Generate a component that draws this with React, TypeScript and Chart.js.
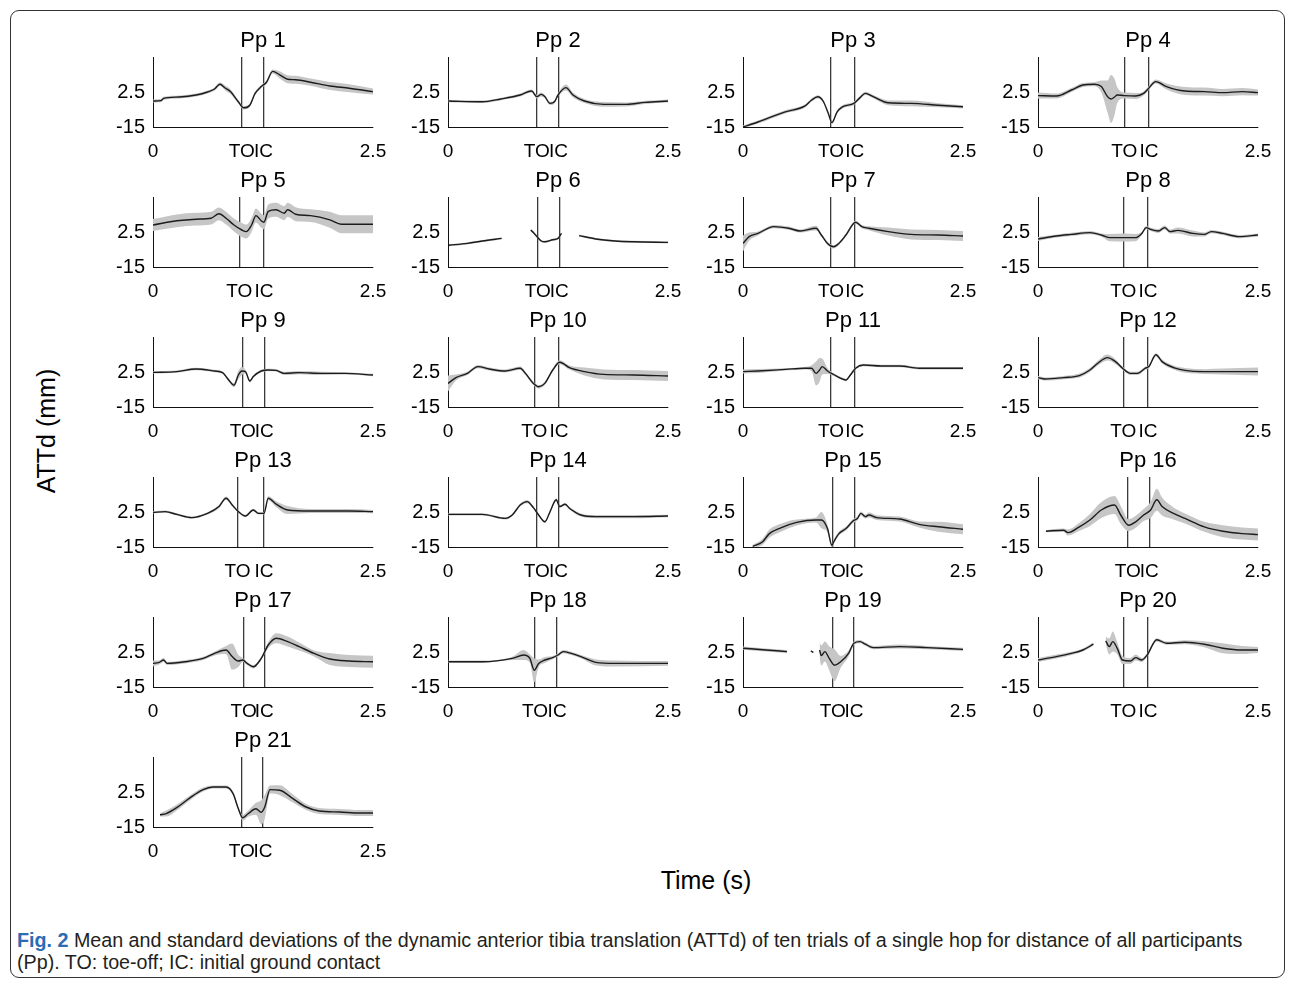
import React, { useEffect, useRef } from 'react';
import { Chart, registerables } from 'chart.js';

Chart.register(...registerables);

const FONT = '"Liberation Sans", Arial, Helvetica, sans-serif';

const X_MIN = 0;
const X_MAX = 2.5;
const Y_MIN = -15;
const Y_MAX = 20;
const Y_TICKS = [-15, 2.5];
const Y_TICK_LABELS = ['-15', '2.5'];
const X_TICK_LABELS = ['0', 'TO', 'IC', '2.5'];
const TITLES = ['Pp 1','Pp 2','Pp 3','Pp 4','Pp 5','Pp 6','Pp 7','Pp 8','Pp 9','Pp 10','Pp 11','Pp 12','Pp 13','Pp 14','Pp 15','Pp 16','Pp 17','Pp 18','Pp 19','Pp 20','Pp 21'];

// toe-off and initial contact times (s)
const TO_TIMES = [1.01, 1.01, 1.00, 0.98, 0.98, 1.02, 1.00, 0.97, 1.02, 0.98, 1.00, 0.97, 0.96, 1.01, 1.02, 1.02, 1.03, 0.99, 1.02, 0.97, 1.01];
const IC_TIMES = [1.255, 1.255, 1.27, 1.26, 1.26, 1.265, 1.27, 1.25, 1.265, 1.26, 1.27, 1.25, 1.26, 1.255, 1.265, 1.265, 1.265, 1.24, 1.26, 1.25, 1.25];

// Pp 1
const T1 = [0, 0.09, 0.12, 0.30, 0.49, 0.62, 0.70, 0.76, 0.82, 0.88, 0.97, 1.03, 1.10, 1.16, 1.23, 1.29, 1.36, 1.44, 1.53, 1.62, 1.79, 2.01, 2.23, 2.5];
const M1 = [-2.0, -1.8, -0.7, 0.0, 1.0, 2.5, 4.0, 6.4, 4.5, 2.7, -2.4, -5.4, -4.1, 1.8, 5.2, 7.4, 12.8, 11.1, 8.9, 8.6, 7.4, 5.5, 4.4, 2.7];
const S1 = [0.8, 0.8, 0.8, 0.8, 0.8, 0.8, 0.8, 0.8, 1.2, 1.2, 0.8, 0.8, 0.8, 0.8, 0.8, 0.8, 1.0, 1.8, 2.0, 2.0, 1.8, 2.0, 2.0, 1.5];
// Pp 2
const T2 = [0, 0.39, 0.60, 0.82, 0.95, 1.01, 1.06, 1.10, 1.16, 1.21, 1.25, 1.34, 1.42, 1.55, 1.77, 2.03, 2.24, 2.5];
const M2 = [-2.0, -2.4, -1.0, 1.0, 3.0, 0.2, 1.3, 0.2, -3.2, -2.4, 1.0, 4.7, 1.0, -2.0, -3.7, -3.7, -2.7, -2.0];
const S2 = [0.6, 0.6, 0.6, 0.8, 0.8, 1.0, 1.0, 0.8, 0.8, 0.8, 0.8, 1.5, 1.2, 1.0, 1.2, 1.0, 0.8, 0.8];
// Pp 3
const T3 = [0, 0.17, 0.48, 0.70, 0.78, 0.85, 0.91, 0.97, 1.01, 1.07, 1.13, 1.26, 1.33, 1.39, 1.48, 1.65, 1.91, 2.22, 2.5];
const M3 = [-15, -12.5, -7.4, -4.6, -1.5, 0.1, -2.0, -8.3, -12.8, -7.4, -4.9, -3.2, -0.3, 1.8, 0.2, -2.9, -3.2, -4.1, -4.9];
const S3 = [0.8, 0.8, 0.8, 0.8, 0.8, 0.8, 0.8, 0.8, 0.8, 0.8, 0.8, 0.8, 0.8, 0.8, 0.8, 1.2, 1.4, 1.0, 0.8];
// Pp 4
const T4 = [0, 0.21, 0.38, 0.51, 0.64, 0.72, 0.79, 0.83, 0.87, 0.90, 0.98, 1.11, 1.20, 1.24, 1.34, 1.46, 1.67, 1.89, 2.10, 2.32, 2.5];
const M4 = [0.7, 0.5, 3.5, 6.0, 6.4, 5.2, 0.2, -1.0, 0.0, 1.0, 0.7, 0.5, 1.8, 3.5, 7.7, 5.2, 3.0, 2.7, 2.2, 2.7, 2.2];
const S4 = [1.5, 1.2, 1.0, 1.0, 1.0, 3.0, 8.0, 12.0, 9.0, 4.0, 1.5, 1.5, 1.0, 1.0, 1.0, 1.5, 2.0, 2.0, 1.8, 1.8, 1.5];
// Pp 5
const T5 = [0, 0.27, 0.49, 0.66, 0.75, 0.83, 0.92, 1.01, 1.06, 1.12, 1.17, 1.23, 1.26, 1.31, 1.40, 1.49, 1.53, 1.62, 1.79, 2.01, 2.14, 2.36, 2.5];
const M5 = [6.0, 8.1, 8.9, 9.4, 11.6, 9.4, 6.0, 3.5, 2.7, 6.0, 10.7, 8.1, 7.4, 12.8, 13.6, 11.9, 13.6, 11.4, 10.7, 8.6, 6.4, 6.4, 6.4];
const S5 = [3.0, 3.2, 3.2, 3.2, 3.2, 3.2, 3.2, 3.5, 3.5, 3.5, 3.5, 3.5, 3.5, 3.5, 3.5, 3.5, 3.5, 3.5, 3.2, 4.0, 4.5, 4.5, 4.5];
// Pp 6
const T6 = [0.01, 0.22, 0.39, 0.61, 0.62, 0.94, 0.98, 1.06, 1.10, 1.19, 1.25, 1.29, 1.30, 1.49, 1.68, 1.90, 2.11, 2.5];
const M6 = [-4.1, -3.2, -2.0, -0.7, null, 3.5, 1.8, -2.0, -2.4, -1.4, -0.7, 1.8, null, 0.7, -1.0, -2.0, -2.4, -2.7];
const S6 = [0.5, 0.5, 0.5, 0.5, 0, 0.5, 0.5, 0.5, 0.5, 0.5, 0.5, 0.5, 0, 0.5, 0.5, 0.5, 0.5, 0.5];
// Pp 7
const T7 = [0, 0.07, 0.17, 0.35, 0.52, 0.65, 0.83, 0.89, 0.96, 1.03, 1.09, 1.17, 1.28, 1.35, 1.43, 1.65, 1.91, 2.22, 2.5];
const M7 = [-3.2, 0.2, 1.8, 5.2, 4.4, 3.0, 4.4, 1.0, -3.2, -4.9, -3.2, 1.0, 7.4, 5.2, 4.4, 2.7, 1.3, 1.0, 0.5];
const S7 = [4.0, 2.0, 1.0, 0.8, 0.8, 0.8, 1.2, 0.8, 0.8, 0.8, 0.8, 0.8, 0.8, 0.8, 1.0, 2.0, 2.5, 2.5, 2.5];
// Pp 8
const T8 = [0, 0.21, 0.38, 0.59, 0.72, 0.81, 0.98, 1.11, 1.18, 1.23, 1.28, 1.37, 1.44, 1.50, 1.59, 1.76, 1.89, 1.97, 2.10, 2.28, 2.5];
const M8 = [-1.0, 0.5, 1.3, 2.2, 1.0, -0.3, -0.3, -0.3, 1.8, 4.7, 3.8, 3.0, 4.7, 2.7, 3.3, 1.8, 1.3, 2.7, 1.8, 0.2, 1.0];
const S8 = [1.0, 0.8, 0.8, 0.8, 0.8, 1.8, 2.0, 1.8, 0.8, 0.8, 0.8, 1.0, 1.0, 1.0, 1.5, 1.5, 1.0, 0.8, 0.8, 0.8, 0.8];
// Pp 9
const T9 = [0, 0.27, 0.49, 0.70, 0.79, 0.86, 0.92, 0.97, 1.01, 1.05, 1.10, 1.14, 1.23, 1.31, 1.40, 1.49, 1.66, 1.92, 2.18, 2.5];
const M9 = [2.3, 2.7, 4.0, 3.0, 2.2, -1.5, -4.1, 1.0, 3.0, 2.7, -2.0, 0.2, 3.0, 3.5, 3.3, 1.8, 2.2, 1.8, 1.8, 1.0];
const S9 = [0.6, 0.6, 0.6, 0.6, 0.6, 0.8, 1.0, 2.0, 2.0, 1.0, 0.8, 0.6, 0.6, 0.6, 0.6, 0.8, 0.8, 0.8, 0.6, 0.6];
// Pp 10
const T10 = [0, 0.09, 0.22, 0.34, 0.47, 0.65, 0.82, 0.88, 0.97, 1.03, 1.10, 1.19, 1.27, 1.38, 1.55, 1.77, 2.11, 2.5];
const M10 = [-3.2, -0.3, 1.8, 5.2, 4.0, 3.0, 4.4, 1.8, -3.2, -4.9, -3.2, 3.5, 7.4, 4.7, 2.7, 1.3, 1.0, 0.5];
const S10 = [4.0, 1.5, 0.8, 0.8, 0.8, 0.8, 0.8, 0.8, 0.8, 0.8, 0.8, 0.8, 1.0, 1.0, 2.0, 2.5, 2.5, 2.5];
// Pp 11
const T11 = [0, 0.17, 0.48, 0.70, 0.78, 0.83, 0.87, 0.90, 0.96, 1.04, 1.13, 1.17, 1.22, 1.28, 1.37, 1.57, 1.78, 2.00, 2.5];
const M11 = [2.7, 3.0, 3.8, 4.4, 4.4, 1.8, 3.5, 5.2, 3.0, 1.0, -1.0, -1.5, 1.0, 4.4, 6.0, 5.5, 5.5, 4.4, 4.4];
const S11 = [1.0, 1.0, 0.6, 0.6, 1.5, 6.0, 6.0, 4.0, 1.5, 0.6, 0.6, 0.6, 0.6, 0.6, 0.6, 0.6, 0.6, 0.6, 0.6];
// Pp 12
const T12 = [0, 0.08, 0.29, 0.47, 0.59, 0.68, 0.79, 0.88, 0.96, 1.05, 1.13, 1.22, 1.26, 1.34, 1.41, 1.54, 1.67, 1.89, 2.10, 2.5];
const M12 = [-0.3, -1.0, -0.3, 0.7, 3.5, 6.9, 9.7, 7.7, 4.4, 1.8, 1.8, 4.4, 5.2, 11.1, 7.7, 4.7, 3.3, 2.7, 2.7, 2.7];
const S12 = [0.8, 0.8, 0.8, 1.0, 1.0, 1.2, 1.5, 1.2, 0.8, 0.8, 0.8, 0.8, 0.8, 0.8, 1.0, 1.0, 1.2, 1.2, 1.5, 2.0];
// Pp 13
const T13 = [0, 0.14, 0.27, 0.44, 0.62, 0.75, 0.83, 0.90, 0.97, 1.05, 1.14, 1.20, 1.26, 1.31, 1.40, 1.53, 1.79, 2.01, 2.23, 2.5];
const M13 = [2.3, 2.7, 1.3, -0.3, 1.8, 5.2, 9.4, 6.0, 2.7, 0.5, 3.5, 1.8, 1.8, 9.4, 6.4, 3.5, 3.0, 3.0, 3.0, 2.7];
const S13 = [0.6, 0.6, 0.6, 0.6, 0.6, 0.8, 0.8, 0.8, 0.6, 0.6, 0.6, 0.6, 0.6, 1.0, 1.5, 2.0, 1.0, 1.0, 1.0, 0.8];
// Pp 14
const T14 = [0, 0.39, 0.65, 0.73, 0.82, 0.90, 0.97, 1.03, 1.10, 1.16, 1.23, 1.27, 1.33, 1.38, 1.51, 1.68, 2.11, 2.5];
const M14 = [1.3, 1.3, -0.7, 1.0, 6.0, 7.7, 4.7, 1.0, -2.4, 2.7, 8.6, 5.2, 6.4, 4.4, 1.0, 0.2, 0.2, 0.5];
const S14 = [0.6, 0.6, 0.6, 0.6, 0.8, 0.8, 0.6, 0.6, 0.6, 0.6, 0.8, 0.6, 0.6, 0.6, 0.8, 0.8, 0.8, 0.6];
// Pp 15
const T15 = [0.11, 0.22, 0.30, 0.43, 0.61, 0.83, 0.89, 0.96, 1.01, 1.03, 1.09, 1.17, 1.25, 1.30, 1.34, 1.39, 1.43, 1.52, 1.78, 2.00, 2.22, 2.5];
const M15 = [-14.7, -12.5, -8.3, -5.4, -2.7, -1.5, -1.5, -5.8, -14.2, -12.5, -8.3, -5.8, -2.0, -0.7, 1.8, 0.2, 1.0, -0.3, -1.0, -3.7, -4.9, -6.1];
const S15 = [0.8, 1.5, 2.0, 2.0, 1.5, 1.2, 4.0, 2.0, 1.0, 1.0, 1.0, 1.0, 1.0, 1.0, 1.0, 1.0, 1.2, 1.2, 1.2, 1.5, 2.5, 2.5];
// Pp 16
const T16 = [0.09, 0.29, 0.34, 0.47, 0.59, 0.72, 0.87, 0.94, 1.03, 1.11, 1.20, 1.28, 1.35, 1.41, 1.54, 1.67, 1.89, 2.10, 2.32, 2.5];
const M16 = [-7.1, -6.6, -7.8, -4.9, -1.5, 3.5, 6.0, 1.0, -4.1, -2.4, 1.0, 3.5, 8.6, 5.2, 1.8, -0.7, -4.9, -7.1, -8.3, -8.8];
const S16 = [0.5, 0.8, 1.5, 2.0, 3.0, 4.0, 4.5, 4.5, 3.0, 3.0, 3.0, 4.0, 5.5, 4.5, 3.0, 2.5, 2.5, 3.0, 3.0, 3.0];
// Pp 17
const T17 = [0, 0.07, 0.12, 0.16, 0.36, 0.57, 0.70, 0.83, 0.90, 0.97, 1.02, 1.07, 1.14, 1.23, 1.31, 1.40, 1.53, 1.66, 1.83, 2.01, 2.23, 2.5];
const M17 = [-3.2, -2.7, -1.5, -3.2, -2.4, -0.7, 1.8, 3.5, 0.2, -2.0, -1.5, -3.2, -4.9, -0.7, 6.0, 9.4, 7.7, 5.2, 1.8, -1.0, -2.0, -2.4];
const S17 = [1.5, 1.0, 1.0, 0.8, 0.8, 0.8, 1.0, 2.0, 6.5, 3.0, 1.0, 0.8, 0.8, 0.8, 1.5, 2.5, 2.5, 2.0, 1.5, 3.0, 3.0, 3.0];
// Pp 18
const T18 = [0, 0.39, 0.73, 0.86, 0.93, 0.98, 1.03, 1.10, 1.19, 1.25, 1.31, 1.40, 1.51, 1.68, 1.90, 2.5];
const M18 = [-2.4, -2.4, -0.7, 1.0, -0.7, -6.6, -3.2, -1.5, -0.3, 1.0, 2.7, 1.8, 0.2, -2.7, -3.2, -3.2];
const S18 = [0.6, 0.6, 0.8, 2.5, 2.0, 6.0, 2.0, 1.5, 0.8, 0.8, 0.8, 0.8, 0.8, 1.5, 1.5, 1.2];
// Pp 19
const T19 = [0, 0.26, 0.50, 0.51, 0.77, 0.80, 0.81, 0.87, 0.89, 0.93, 0.98, 1.04, 1.11, 1.20, 1.26, 1.33, 1.39, 1.48, 1.78, 2.09, 2.5];
const M19 = [4.4, 3.5, 2.7, null, 3.0, 2.3, null, 3.5, 0.7, 2.7, -0.7, -4.1, -2.4, 1.8, 6.9, 7.7, 6.4, 4.7, 5.2, 4.7, 3.8];
const S19 = [0.8, 0.8, 0.8, 0, 0.5, 0.5, 0, 4.0, 5.0, 5.0, 6.0, 8.0, 3.0, 1.5, 0.8, 0.8, 0.8, 0.8, 1.0, 0.8, 0.8];
// Pp 20
const T20 = [0, 0.21, 0.38, 0.51, 0.63, 0.64, 0.77, 0.81, 0.85, 0.90, 0.96, 1.05, 1.11, 1.18, 1.24, 1.35, 1.46, 1.67, 1.89, 2.10, 2.32, 2.5];
const M20 = [-1.5, 0.2, 1.8, 3.5, 6.4, null, 8.1, 5.2, 7.7, 4.4, -1.5, -2.0, -0.3, -1.5, 1.0, 8.6, 6.9, 7.4, 6.4, 4.4, 3.5, 3.5];
const S20 = [1.0, 1.0, 0.8, 0.8, 0.8, 0, 2.0, 4.0, 5.0, 3.0, 2.0, 1.5, 1.5, 1.0, 0.8, 0.8, 0.8, 1.0, 1.5, 2.5, 2.0, 1.5];
// Pp 21
const T21 = [0.08, 0.15, 0.27, 0.42, 0.57, 0.68, 0.83, 0.91, 0.97, 1.02, 1.08, 1.17, 1.23, 1.27, 1.33, 1.44, 1.59, 1.74, 1.89, 2.12, 2.35, 2.5];
const M21 = [-8.9, -8.3, -5.3, -0.4, 3.7, 5.0, 5.0, 1.7, -5.9, -10.4, -8.4, -5.9, -7.6, -5.0, 3.7, 3.4, -0.8, -5.0, -7.0, -7.5, -8.0, -8.0];
const S21 = [0.8, 1.5, 1.5, 1.2, 1.0, 0.8, 0.8, 1.0, 1.0, 1.5, 1.5, 3.0, 6.0, 6.0, 2.0, 2.5, 2.0, 1.5, 1.5, 1.5, 1.5, 1.5];

const PANELS = [
  [T1, M1, S1], [T2, M2, S2], [T3, M3, S3], [T4, M4, S4], [T5, M5, S5], [T6, M6, S6], [T7, M7, S7],
  [T8, M8, S8], [T9, M9, S9], [T10, M10, S10], [T11, M11, S11], [T12, M12, S12], [T13, M13, S13], [T14, M14, S14],
  [T15, M15, S15], [T16, M16, S16], [T17, M17, S17], [T18, M18, S18], [T19, M19, S19], [T20, M20, S20], [T21, M21, S21],
];

// layout (pixels)
const COL_LEFT = [153, 448, 743, 1038];
const ROW_TOP = [57, 197, 337, 477, 617, 757];
const PLOT_W = 220;
const PLOT_H = 70;
const AXIS_W = 52;
const PAD_TOP = 26;
const PAD_RIGHT = 32;
const XAXIS_H = 38;

function Panel({ idx }: { idx: number }) {
  const ref = useRef<HTMLCanvasElement | null>(null);
  useEffect(() => {
    const [t, m, s] = PANELS[idx] as [number[], (number | null)[], number[]];
    const to = TO_TIMES[idx];
    const ic = IC_TIMES[idx];
    const mean = t.map((x, i) => ({ x, y: m[i] }));
    const upper = t.map((x, i) => ({ x, y: m[i] === null ? null : (m[i] as number) + s[i] }));
    const lower = t.map((x, i) => ({ x, y: m[i] === null ? null : (m[i] as number) - s[i] }));
    const xTickVals = [X_MIN, to, ic, X_MAX];
    const chart = new Chart(ref.current as HTMLCanvasElement, {
      type: 'line',
      data: {
        datasets: [
          { data: mean as any, borderColor: '#1c1c1c', borderWidth: 1.4, pointRadius: 0, fill: false, cubicInterpolationMode: 'monotone', spanGaps: false },
          { data: upper as any, borderColor: 'rgba(0,0,0,0)', borderWidth: 0, pointRadius: 0, fill: false, cubicInterpolationMode: 'monotone', spanGaps: false },
          { data: lower as any, borderColor: 'rgba(0,0,0,0)', borderWidth: 0, pointRadius: 0, fill: '-1', backgroundColor: '#c6c6c6', cubicInterpolationMode: 'monotone', spanGaps: false },
        ],
      },
      options: {
        animation: false,
        responsive: false,
        events: [],
        layout: { padding: { top: PAD_TOP, right: PAD_RIGHT, left: 0, bottom: 0 } },
        plugins: { legend: { display: false }, tooltip: { enabled: false }, title: { display: false } },
        scales: {
          x: {
            type: 'linear',
            min: X_MIN,
            max: X_MAX,
            afterBuildTicks: (sc: any) => { sc.ticks = xTickVals.map((v) => ({ value: v })); },
            afterFit: (sc: any) => { sc.height = XAXIS_H; },
            ticks: {
              autoSkip: false, maxRotation: 0, minRotation: 0, padding: 13, color: '#000',
              font: { family: FONT, size: 19 },
              callback: (_v: any, i: number) => X_TICK_LABELS[i],
            },
            grid: {
              drawTicks: false,
              color: (c: any) => (c.index === 1 || c.index === 2 ? '#3a3a3a' : 'rgba(0,0,0,0)'),
              lineWidth: 1.3,
            },
            border: { display: true, color: '#111', width: 1 },
          },
          y: {
            type: 'linear',
            min: Y_MIN,
            max: Y_MAX,
            afterBuildTicks: (sc: any) => { sc.ticks = Y_TICKS.map((v) => ({ value: v })); },
            afterFit: (sc: any) => { sc.width = AXIS_W; },
            ticks: {
              padding: 8, color: '#000',
              font: { family: FONT, size: 20 },
              callback: (_v: any, i: number) => Y_TICK_LABELS[i],
            },
            grid: { drawTicks: false, color: 'rgba(0,0,0,0)' },
            border: { display: true, color: '#111', width: 1 },
          },
        },
      } as any,
    });
    return () => chart.destroy();
  }, [idx]);
  const col = idx % 4;
  const row = Math.floor(idx / 4);
  const w = AXIS_W + PLOT_W + PAD_RIGHT;
  const h = PAD_TOP + PLOT_H + XAXIS_H;
  return (
    <>
      <canvas
        ref={ref}
        width={w}
        height={h}
        style={{ position: 'absolute', left: COL_LEFT[col] - AXIS_W, top: ROW_TOP[row] - PAD_TOP, width: w, height: h }}
      />
      <div style={{ position: 'absolute', left: COL_LEFT[col], top: ROW_TOP[row] - 31, width: PLOT_W, height: 28, lineHeight: '28px', textAlign: 'center', fontFamily: FONT, fontSize: 22, color: '#000' }}>
        {TITLES[idx]}
      </div>
    </>
  );
}

export default function App() {
  return (
    <div style={{ position: 'absolute', left: 0, top: 0, width: 1293, height: 986, background: '#fff', overflow: 'hidden' }}>
      <div style={{ position: 'absolute', left: 10, top: 10, width: 1273, height: 966, border: '1.5px solid #333', borderRadius: 9 }} />
      {PANELS.map((_, i) => <Panel key={i} idx={i} />)}
      <div style={{ position: 'absolute', left: -54, top: 416, width: 200, height: 30, lineHeight: '30px', textAlign: 'center', transform: 'rotate(-90deg)', fontFamily: FONT, fontSize: 25, color: '#000' }}>
        ATTd (mm)
      </div>
      <div style={{ position: 'absolute', left: 606, top: 865, width: 200, height: 30, lineHeight: '30px', textAlign: 'center', fontFamily: FONT, fontSize: 25, color: '#000' }}>
        Time (s)
      </div>
      <div style={{ position: 'absolute', left: 17, top: 929, fontFamily: FONT, fontSize: 19.7, lineHeight: '22px', color: '#231f20', whiteSpace: 'nowrap' }}>
        <span style={{ fontWeight: 'bold', color: '#2b6cb3' }}>Fig. 2</span> Mean and standard deviations of the dynamic anterior tibia translation (ATTd) of ten trials of a single hop for distance of all participants
        <br />
        (Pp). TO: toe-off; IC: initial ground contact
      </div>
    </div>
  );
}
